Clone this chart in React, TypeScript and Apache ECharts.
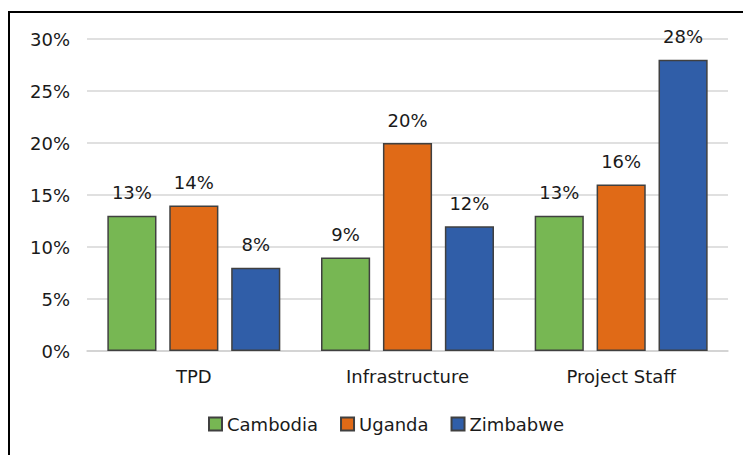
import React, { useEffect, useRef } from "react";
import * as echarts from "echarts";

const categories = ["TPD", "Infrastructure", "Project Staff"];
const cambodia = [13, 9, 13];
const uganda = [14, 20, 16];
const zimbabwe = [8, 12, 28];
const seriesNames = ["Cambodia", "Uganda", "Zimbabwe"];
const colors = ["#77B753", "#E06A17", "#305EA8"];

const FONT = "DejaVu Sans";

export default function App() {
  const ref = useRef<HTMLDivElement>(null);
  useEffect(() => {
    if (!ref.current) return;
    const chart = echarts.init(ref.current, null, { renderer: "svg" });
    const data = [cambodia, uganda, zimbabwe];
    chart.setOption({
      animation: false,
      backgroundColor: "#ffffff",
      textStyle: { fontFamily: FONT },
      grid: { left: 87, right: 15, top: 39, bottom: 104 },
      legend: {
        left: 203,
        top: 410,
        itemWidth: 13,
        itemHeight: 13,
        itemGap: 22,
        icon: "rect",
        textStyle: { fontFamily: FONT, fontSize: 18, color: "#1a1a1a" },
        data: seriesNames,
      },
      xAxis: {
        type: "category",
        data: categories,
        axisLine: { lineStyle: { color: "#d0d0d0", width: 1.5 } },
        axisTick: { show: false },
        axisLabel: { fontFamily: FONT, fontSize: 18, color: "#1a1a1a", margin: 16 },
      },
      yAxis: {
        type: "value",
        min: 0,
        max: 30,
        interval: 5,
        axisLine: { show: false },
        axisTick: { show: false },
        splitLine: { lineStyle: { color: "#d6d6d6", width: 1.5 } },
        axisLabel: {
          fontFamily: FONT,
          fontSize: 18,
          color: "#1a1a1a",
          margin: 17,
          formatter: (v: number) => v + "%",
        },
      },
      graphic: [
        {
          type: "rect",
          shape: { x: 9, y: 12, width: 800, height: 500 },
          style: { fill: "none", stroke: "#000", lineWidth: 2 },
          silent: true,
          z: 100,
        },
      ],
      series: seriesNames.map((name, i) => ({
        name,
        type: "bar",
        data: data[i],
        barWidth: "23%",
        barGap: "26%",
        itemStyle: { color: colors[i], borderColor: "#404040", borderWidth: 1.5 },
        label: {
          show: true,
          position: "top",
          distance: 14,
          fontFamily: FONT,
          fontSize: 18,
          color: "#1a1a1a",
          formatter: (p: any) => p.value + "%",
        },
      })),
    });
    return () => chart.dispose();
  }, []);
  return (
    <div
      ref={ref}
      style={{ position: "fixed", left: 0, top: 0, width: 743, height: 455 }}
    />
  );
}
